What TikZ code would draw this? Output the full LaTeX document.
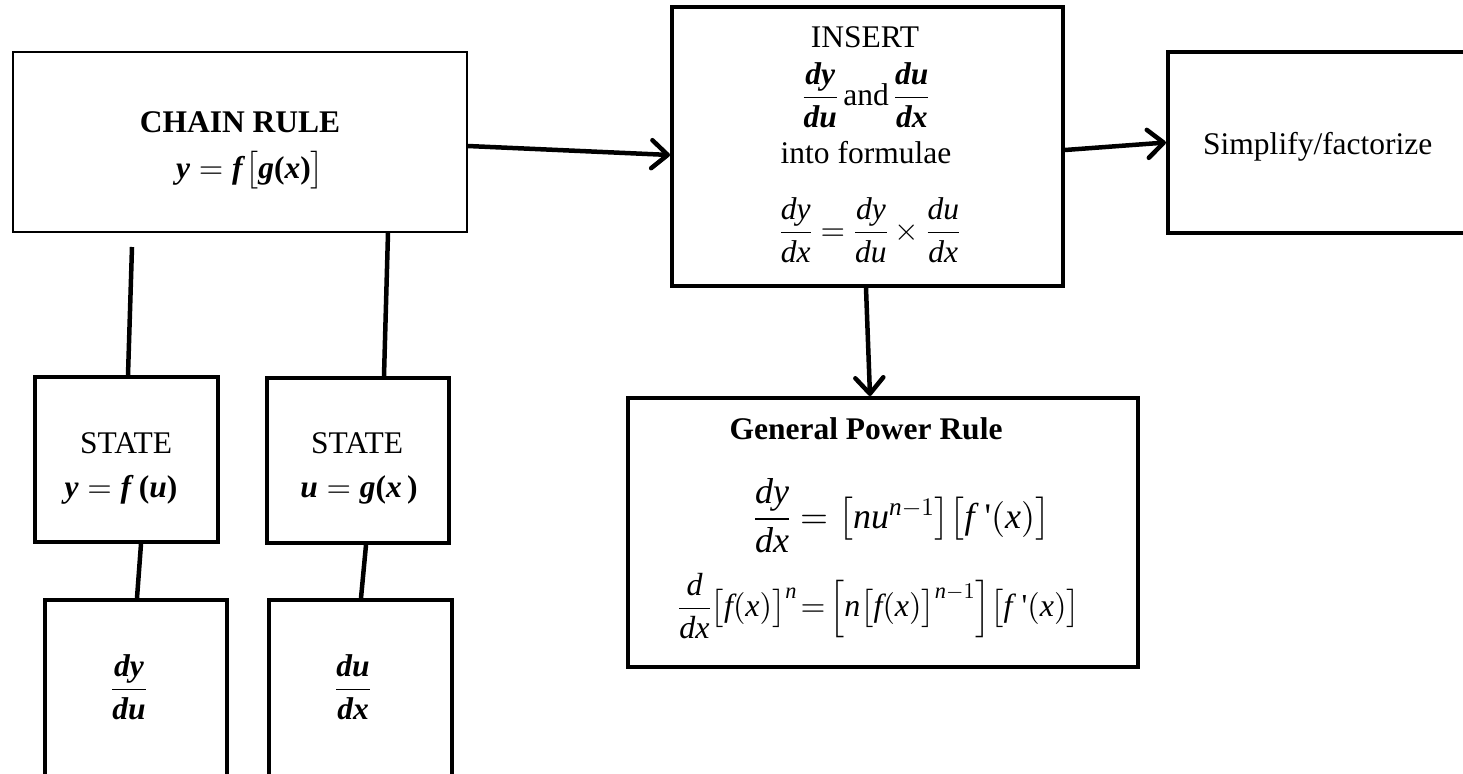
\documentclass[tikz,border=0pt]{standalone}
\usepackage{amsmath}
\usepackage[no-math]{fontspec}
\setmainfont{Liberation Serif}
\DeclareFontShape{OT1}{cmr}{m}{n}{<-> cmr10}{}
\DeclareFontShape{OML}{cmm}{m}{it}{<-> cmmi10}{}
\DeclareFontShape{OMS}{cmsy}{m}{n}{<-> cmsy10}{}
\DeclareFontShape{OMX}{cmex}{m}{n}{<-> cmex10}{}
\usetikzlibrary{arrows.meta}
\newcommand{\mi}[1]{\textit{#1}}
\newcommand{\bi}[1]{\textbf{\textit{#1}}}
\newcommand{\bp}[1]{\textbf{#1}}
\newcommand{\fprime}{\text{\textit{f}\,\textquotesingle}}
\begin{document}
\begin{tikzpicture}[x=1pt,y=-1pt,
  box/.style={draw, line width=4pt, rectangle, inner sep=0pt},
  thinbox/.style={draw, line width=1.4pt, rectangle, inner sep=0pt},
  conn/.style={line width=4.5pt},
  arr/.style={line width=4.5pt, -{Straight Barb[length=16pt,width=28pt,round]}},
  txt/.style={font=\fontsize{31.5}{36}\selectfont, inner sep=0pt, align=center},
  btxt/.style={font=\fontsize{31.5}{36}\selectfont\bfseries, inner sep=0pt, align=center},
  bigtxt/.style={font=\fontsize{36}{40}\selectfont, inner sep=0pt, align=center},
  midtxt/.style={font=\fontsize{32}{37}\selectfont, inner sep=0pt, align=center}]
\useasboundingbox (0,0) rectangle (1463,773);
\clip (0,0) rectangle (1463,773);

% boxes
\node[thinbox, minimum width=454pt, minimum height=180pt] (chain) at (240,142) {};
\node[box, minimum width=391pt, minimum height=279pt] (insert) at (867.5,146.5) {};
\node[box, minimum width=307pt, minimum height=181pt] (simp) at (1321.5,142.5) {};
\node[box, minimum width=183pt, minimum height=165pt] (state1) at (126.5,459.5) {};
\node[box, minimum width=182pt, minimum height=165pt] (state2) at (358,460.5) {};
\node[box, minimum width=182pt, minimum height=190pt] (dydu) at (136,695) {};
\node[box, minimum width=183pt, minimum height=190pt] (dudx) at (360.5,695) {};
\node[box, minimum width=510pt, minimum height=269pt] (power) at (883,532.5) {};

% texts
\node[btxt, anchor=base, text depth=0pt] (chaint) at (240,132) {CHAIN RULE};
\node[txt, anchor=base] (chainf) at (250,178) {$\bi{y}=\bi{f}\bigl[\bi{g}\bp{(}\bi{x}\bp{)}\bigr]$};

\node[txt, anchor=base] (inst) at (865,48) {INSERT};
\node[txt] (insf) at (866,95) {$\dfrac{\bi{dy}}{\bi{du}}$\,and\,$\dfrac{\bi{du}}{\bi{dx}}$};
\node[txt, anchor=base] (insi) at (866,163) {into formulae};
\node[txt] (inse) at (870,230) {$\dfrac{\mi{dy}}{\mi{dx}}=\dfrac{\mi{dy}}{\mi{du}}\times\dfrac{\mi{du}}{\mi{dx}}$};

\node[txt, anchor=base west] (simpt) at (1203,154) {Simplify/factorize};

\node[txt, anchor=base] (s1t) at (126,453) {STATE};
\node[txt, anchor=base] (s1f) at (121,497) {$\bi{y}=\bi{f}\,\bp{(}\bi{u}\bp{)}$};
\node[txt, anchor=base] (s2t) at (357,453) {STATE};
\node[txt, anchor=base] (s2f) at (359,497) {$\bi{u}=\bi{g}\bp{(}\bi{x}\,\bp{)}$};

\node[txt] (dydut) at (129,687) {$\dfrac{\bi{dy}}{\bi{du}}$};
\node[txt] (dudxt) at (353,687) {$\dfrac{\bi{du}}{\bi{dx}}$};

\node[btxt, anchor=base] (powt) at (866,439) {General Power Rule};
\node[bigtxt] (pow1) at (902,516) {$\dfrac{\mi{dy}}{\mi{dx}}=\bigl[\mi{nu}^{\mi{n}-1}\bigr]\bigl[\fprime(\mi{x})\bigr]$};
\node[midtxt] (pow2) at (879,606) {$\dfrac{\mi{d}}{\mi{dx}}\bigl[\mi{f}(\mi{x})\bigr]^{\mi{n}}\!=\!\Bigl[\mi{n}\bigl[\mi{f}(\mi{x})\bigr]^{\mi{n}-1}\Bigr]\bigl[\fprime(\mi{x})\bigr]$};

% connectors
\coordinate (top1) at (132,247);
\draw[conn] (top1) -- ([xshift=1.5pt]state1.north);
\draw[conn] ([xshift=148pt]chain.south) -- ([xshift=26pt]state2.north);
\draw[conn] ([xshift=14.5pt]state1.south) -- ([xshift=1pt]dydu.north);
\draw[conn] ([xshift=8pt]state2.south) -- ([xshift=0.5pt]dudx.north);

\draw[arr] ([yshift=-4pt]chain.east) -- ([yshift=-8.5pt]insert.west);
\draw[arr] ([yshift=-3.5pt]insert.east) -- (simp.west);
\draw[arr] ([xshift=-1.5pt]insert.south) -- ([xshift=-13pt]power.north);
\end{tikzpicture}
\end{document}
